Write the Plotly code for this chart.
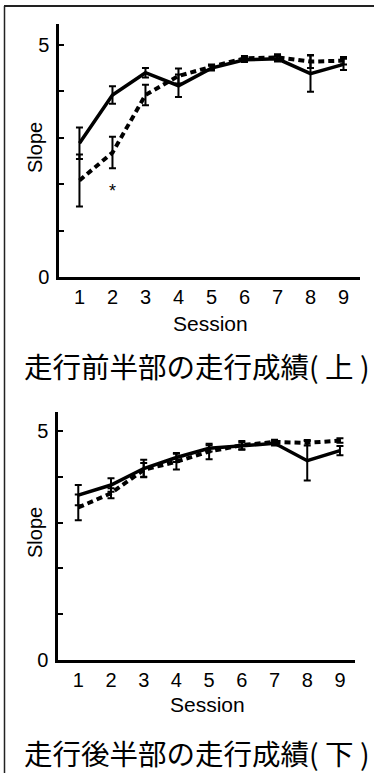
import plotly.graph_objects as go

sessions = [1, 2, 3, 4, 5, 6, 7, 8, 9]

# Top panel (走行前半部)
top_solid = [2.88, 3.92, 4.40, 4.12, 4.50, 4.68, 4.70, 4.38, 4.58]
top_solid_err = [0.34, 0.19, 0.10, 0.24, 0.05, 0.05, 0.06, 0.39, 0.12]
top_dashed = [2.08, 2.68, 3.92, 4.33, 4.53, 4.71, 4.73, 4.64, 4.66]
top_dashed_err = [0.56, 0.34, 0.22, 0.16, 0.05, 0.05, 0.07, 0.14, 0.08]

# Bottom panel (走行後半部)
bot_solid = [3.60, 3.82, 4.18, 4.42, 4.62, 4.67, 4.73, 4.35, 4.57]
bot_solid_err = [0.22, 0.15, 0.19, 0.10, 0.07, 0.08, 0.05, 0.43, 0.10]
bot_dashed = [3.33, 3.64, 4.15, 4.33, 4.55, 4.69, 4.76, 4.74, 4.79]
bot_dashed_err = [0.28, 0.11, 0.15, 0.17, 0.17, 0.09, 0.05, 0.06, 0.05]

y_tickvals = [0, 1, 2, 3, 4, 5]
y_ticktext = ["0", "", "", "", "", "5"]
x_ticktext = ["1", "2", "3", "4", "5", "6", "7", "8", "9"]

title_top = "走行前半部の走行成績( 上 )"
title_bot = "走行後半部の走行成績( 下 )"

W, H = 374, 773
def px(x):
    return x / W
def py(y):
    return 1 - y / H

fig = go.Figure()

def add_panel(xa, ya, solid, solid_err, dashed, dashed_err):
    fig.add_trace(go.Scatter(
        x=sessions, y=dashed, xaxis=xa, yaxis=ya, mode="lines",
        line=dict(color="black", width=4, dash="6px,4px"),
        error_y=dict(type="data", array=dashed_err, color="black", thickness=2, width=3.5),
        showlegend=False, hoverinfo="skip"))
    fig.add_trace(go.Scatter(
        x=sessions, y=solid, xaxis=xa, yaxis=ya, mode="lines",
        line=dict(color="black", width=3.5),
        error_y=dict(type="data", array=solid_err, color="black", thickness=2, width=3.5),
        showlegend=False, hoverinfo="skip"))

add_panel("x", "y", top_solid, top_solid_err, top_dashed, top_dashed_err)
add_panel("x2", "y2", bot_solid, bot_solid_err, bot_dashed, bot_dashed_err)

font_family = "Liberation Sans, Arial, sans-serif"
xcommon = dict(showline=True, linecolor="black", linewidth=2.5, ticks="",
               tickvals=sessions, ticktext=x_ticktext, showgrid=False, zeroline=False,
               tickfont=dict(size=20, color="black", family=font_family),
               ticklabelstandoff=0, fixedrange=True, automargin=False)
ycommon = dict(showline=True, linecolor="black", linewidth=2.5, ticks="inside",
               ticklen=5, tickwidth=2, tickcolor="black",
               tickvals=y_tickvals, ticktext=y_ticktext, showgrid=False, zeroline=False,
               tickfont=dict(size=20, color="black", family=font_family),
               ticklabelstandoff=3, fixedrange=True, automargin=False)

fig.update_layout(
    template="none",
    width=W, height=H, margin=dict(l=0, r=0, t=0, b=0, pad=0),
    paper_bgcolor="white", plot_bgcolor="white",
    xaxis=dict(domain=[px(59), px(360)], range=[0.38, 9.5], anchor="y", **xcommon),
    yaxis=dict(domain=[py(277), py(24)], range=[0, 5.45], anchor="x", **ycommon),
    xaxis2=dict(domain=[px(58), px(355)], range=[0.38, 9.46], anchor="y2", **xcommon),
    yaxis2=dict(domain=[py(660), py(411.7)], range=[0, 5.42], anchor="x2", **ycommon),
)

def txt(x, y, text, size, angle=0, xanchor="center", family=font_family):
    return dict(x=px(x), y=py(y), xref="paper", yref="paper", text=text, showarrow=False,
                xanchor=xanchor, yanchor="middle", textangle=angle,
                font=dict(size=size, color="black", family=family))

annos = [
    dict(x=2, y=1.85, xref="x", yref="y", text="*", showarrow=False,
         xanchor="center", yanchor="middle",
         font=dict(size=18, color="black", family=font_family)),
    txt(210, 323, "Session", 21),
    txt(207, 704, "Session", 21),
    txt(35, 148, "Slope", 20, angle=-90),
    txt(35, 533, "Slope", 20, angle=-90),
    txt(22, 365.5, title_top, 28.5, xanchor="left", family="Noto Sans CJK JP"),
    txt(22, 752.5, title_bot, 28.5, xanchor="left", family="Noto Sans CJK JP"),
]
fig.update_layout(annotations=annos)

fig.update_layout(shapes=[
    dict(type="line", xref="paper", yref="paper", x0=px(4), x1=1, y0=py(6), y1=py(6),
         line=dict(color="#222", width=2)),
    dict(type="line", xref="paper", yref="paper", x0=px(4.5), x1=px(4.5), y0=py(6), y1=0,
         line=dict(color="#222", width=1.5)),
])

fig.write_html("out.html", config={"displayModeBar": False},
               post_script="document.body.style.margin='0';document.body.style.overflow='hidden';")
